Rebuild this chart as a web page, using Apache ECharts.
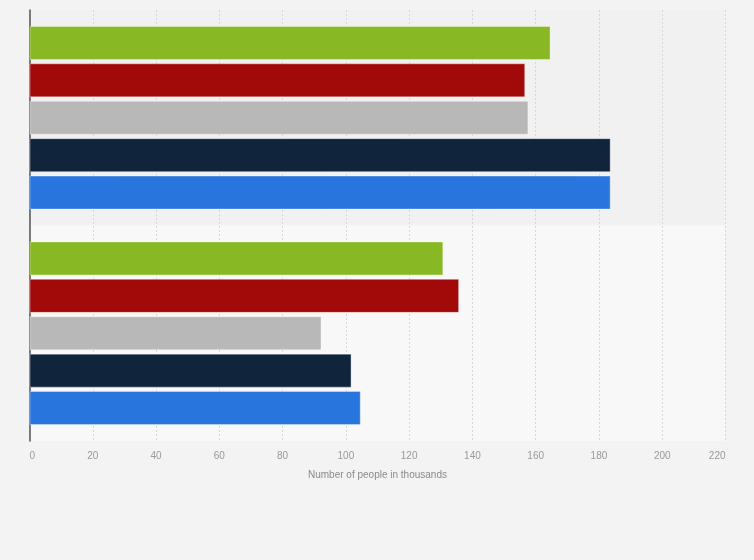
<!DOCTYPE html>
<html>
<head>
<meta charset="utf-8">
<script src="https://cdn.jsdelivr.net/npm/echarts@6/dist/echarts.min.js"></script>
<style>
  html, body { margin: 0; padding: 0; background: #f3f3f3; }
  #chart { width: 754px; height: 560px; }
</style>
</head>
<body>
<div id="chart"></div>
<script>
// two groups, no labels shown in the picture
const categories = ['Group A', 'Group B'];
const seriesNames = ['Series 1', 'Series 2', 'Series 3', 'Series 4', 'Series 5'];
const green = [164.7, 130.8];
const red = [156.7, 135.8];
const gray = [157.7, 92.3];
const navy = [183.7, 101.8];
const blue = [183.7, 104.7];
const colors = ['#88b925', '#a20a0a', '#b8b8b8', '#10253c', '#2876dd'];
const values = [green, red, gray, navy, blue];

let myChart = echarts.init(document.getElementById('chart'));
myChart.setOption({
  backgroundColor: '#f3f3f3',
  textStyle: { fontFamily: 'Liberation Sans, Arial, sans-serif' },
  grid: {
    left: 29.5,
    right: 28.5,
    top: 10,
    bottom: 119
  },
  xAxis: {
    type: 'value',
    min: 0,
    max: 220,
    interval: 20,
    name: 'Number of people in thousands',
    nameLocation: 'middle',
    nameGap: 29,
    nameTextStyle: { color: '#8a8a8a', fontSize: 10 },
    axisLine: { show: false },
    axisTick: { show: false },
    axisLabel: {
      color: '#999',
      fontSize: 10,
      margin: 10,
      alignMinLabel: 'left',
      alignMaxLabel: 'right'
    },
    splitLine: {
      lineStyle: { color: '#d6d6d6', type: [2, 2], width: 1 }
    }
  },
  yAxis: {
    type: 'category',
    data: categories,
    inverse: true,
    axisLine: { lineStyle: { color: '#555', width: 1.5 } },
    axisTick: { show: false },
    axisLabel: { show: false },
    splitArea: {
      show: true,
      areaStyle: { color: ['#f1f1f1', '#f8f8f8'] }
    }
  },
  series: values.map((data, i) => ({
    name: seriesNames[i],
    type: 'bar',
    data: data,
    barWidth: 34,
    barGap: '10%',
    itemStyle: {
      color: colors[i],
      borderColor: 'rgba(255,255,255,0.35)',
      borderWidth: 1
    }
  }))
});
</script>
</body>
</html>
